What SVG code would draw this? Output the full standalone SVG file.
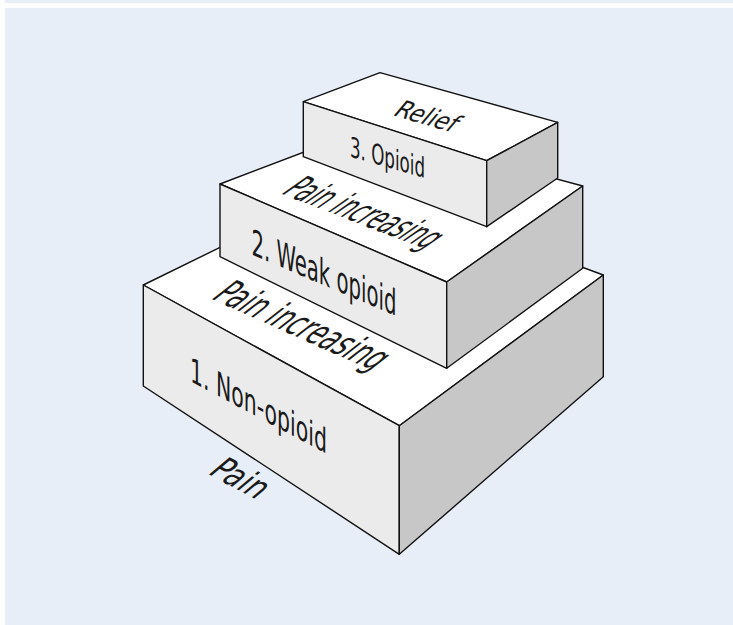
<svg xmlns="http://www.w3.org/2000/svg" width="733" height="625" viewBox="0 0 733 625">
<style>
.top{fill:#ffffff;stroke:#111;stroke-width:1.4;stroke-linejoin:round}
.front{fill:#ebebeb;stroke:#111;stroke-width:1.4;stroke-linejoin:round}
.side{fill:#c6c7c6;stroke:#111;stroke-width:1.4;stroke-linejoin:round}
.t{font-family:"DejaVu Sans Condensed","DejaVu Sans","Liberation Sans",sans-serif;fill:#1a1a1a}
</style>
<rect x="5" y="0" width="728" height="3" fill="#e7eef7"/>
<rect x="5" y="8" width="728" height="617" fill="#e7eef7"/>
<g id="step1">
<polygon class="top" points="143.3,285 352.8,182.3 603.3,275 399.3,425.7"/>
<polygon class="front" points="143.3,285 399.3,425.7 399.3,554.3 143.3,386"/>
<polygon class="side" points="399.3,425.7 603.3,275 603.3,376.7 399.3,554.3"/>
<text class="t" font-size="34" textLength="137" lengthAdjust="spacingAndGlyphs" transform="translate(190,381) skewY(28)">1. Non-opioid</text>
<text class="t" font-size="38" textLength="178" lengthAdjust="spacingAndGlyphs" transform="translate(210,298.3) rotate(24) skewX(-28)">Pain increasing</text>
<text class="t" font-size="34" textLength="56" lengthAdjust="spacingAndGlyphs" transform="translate(206.7,473.3) rotate(28) skewX(-22)">Pain</text>
</g>
<g id="step2">
<polygon class="top" points="220,184 367.5,128 582.7,186 446.7,282"/>
<polygon class="front" points="220,184 446.7,282 446.7,368.3 220,256.7"/>
<polygon class="side" points="446.7,282 582.7,186 582.7,268.3 446.7,368.3"/>
<text class="t" font-size="36" textLength="145" lengthAdjust="spacingAndGlyphs" transform="translate(251.5,254.5) skewY(23)">2. Weak opioid</text>
<text class="t" font-size="36" textLength="156" lengthAdjust="spacingAndGlyphs" transform="translate(280,193.3) rotate(21) skewX(-34)">Pain increasing</text>
</g>
<g id="step3">
<polygon class="top" points="303.3,101.7 380,72.7 557.7,122.3 486.7,160.7"/>
<polygon class="front" points="303.3,101.7 486.7,160.7 486.7,226.7 303.3,156.7"/>
<polygon class="side" points="486.7,160.7 557.7,122.3 557.7,178 486.7,226.7"/>
<text class="t" font-size="28" textLength="75" lengthAdjust="spacingAndGlyphs" transform="translate(350,156.5) skewY(16)">3. Opioid</text>
<text class="t" font-size="25" textLength="62" lengthAdjust="spacingAndGlyphs" transform="translate(391.7,115) rotate(16) skewX(-24)">Relief</text>
</g>
<g id="connectors"/>
</svg>
